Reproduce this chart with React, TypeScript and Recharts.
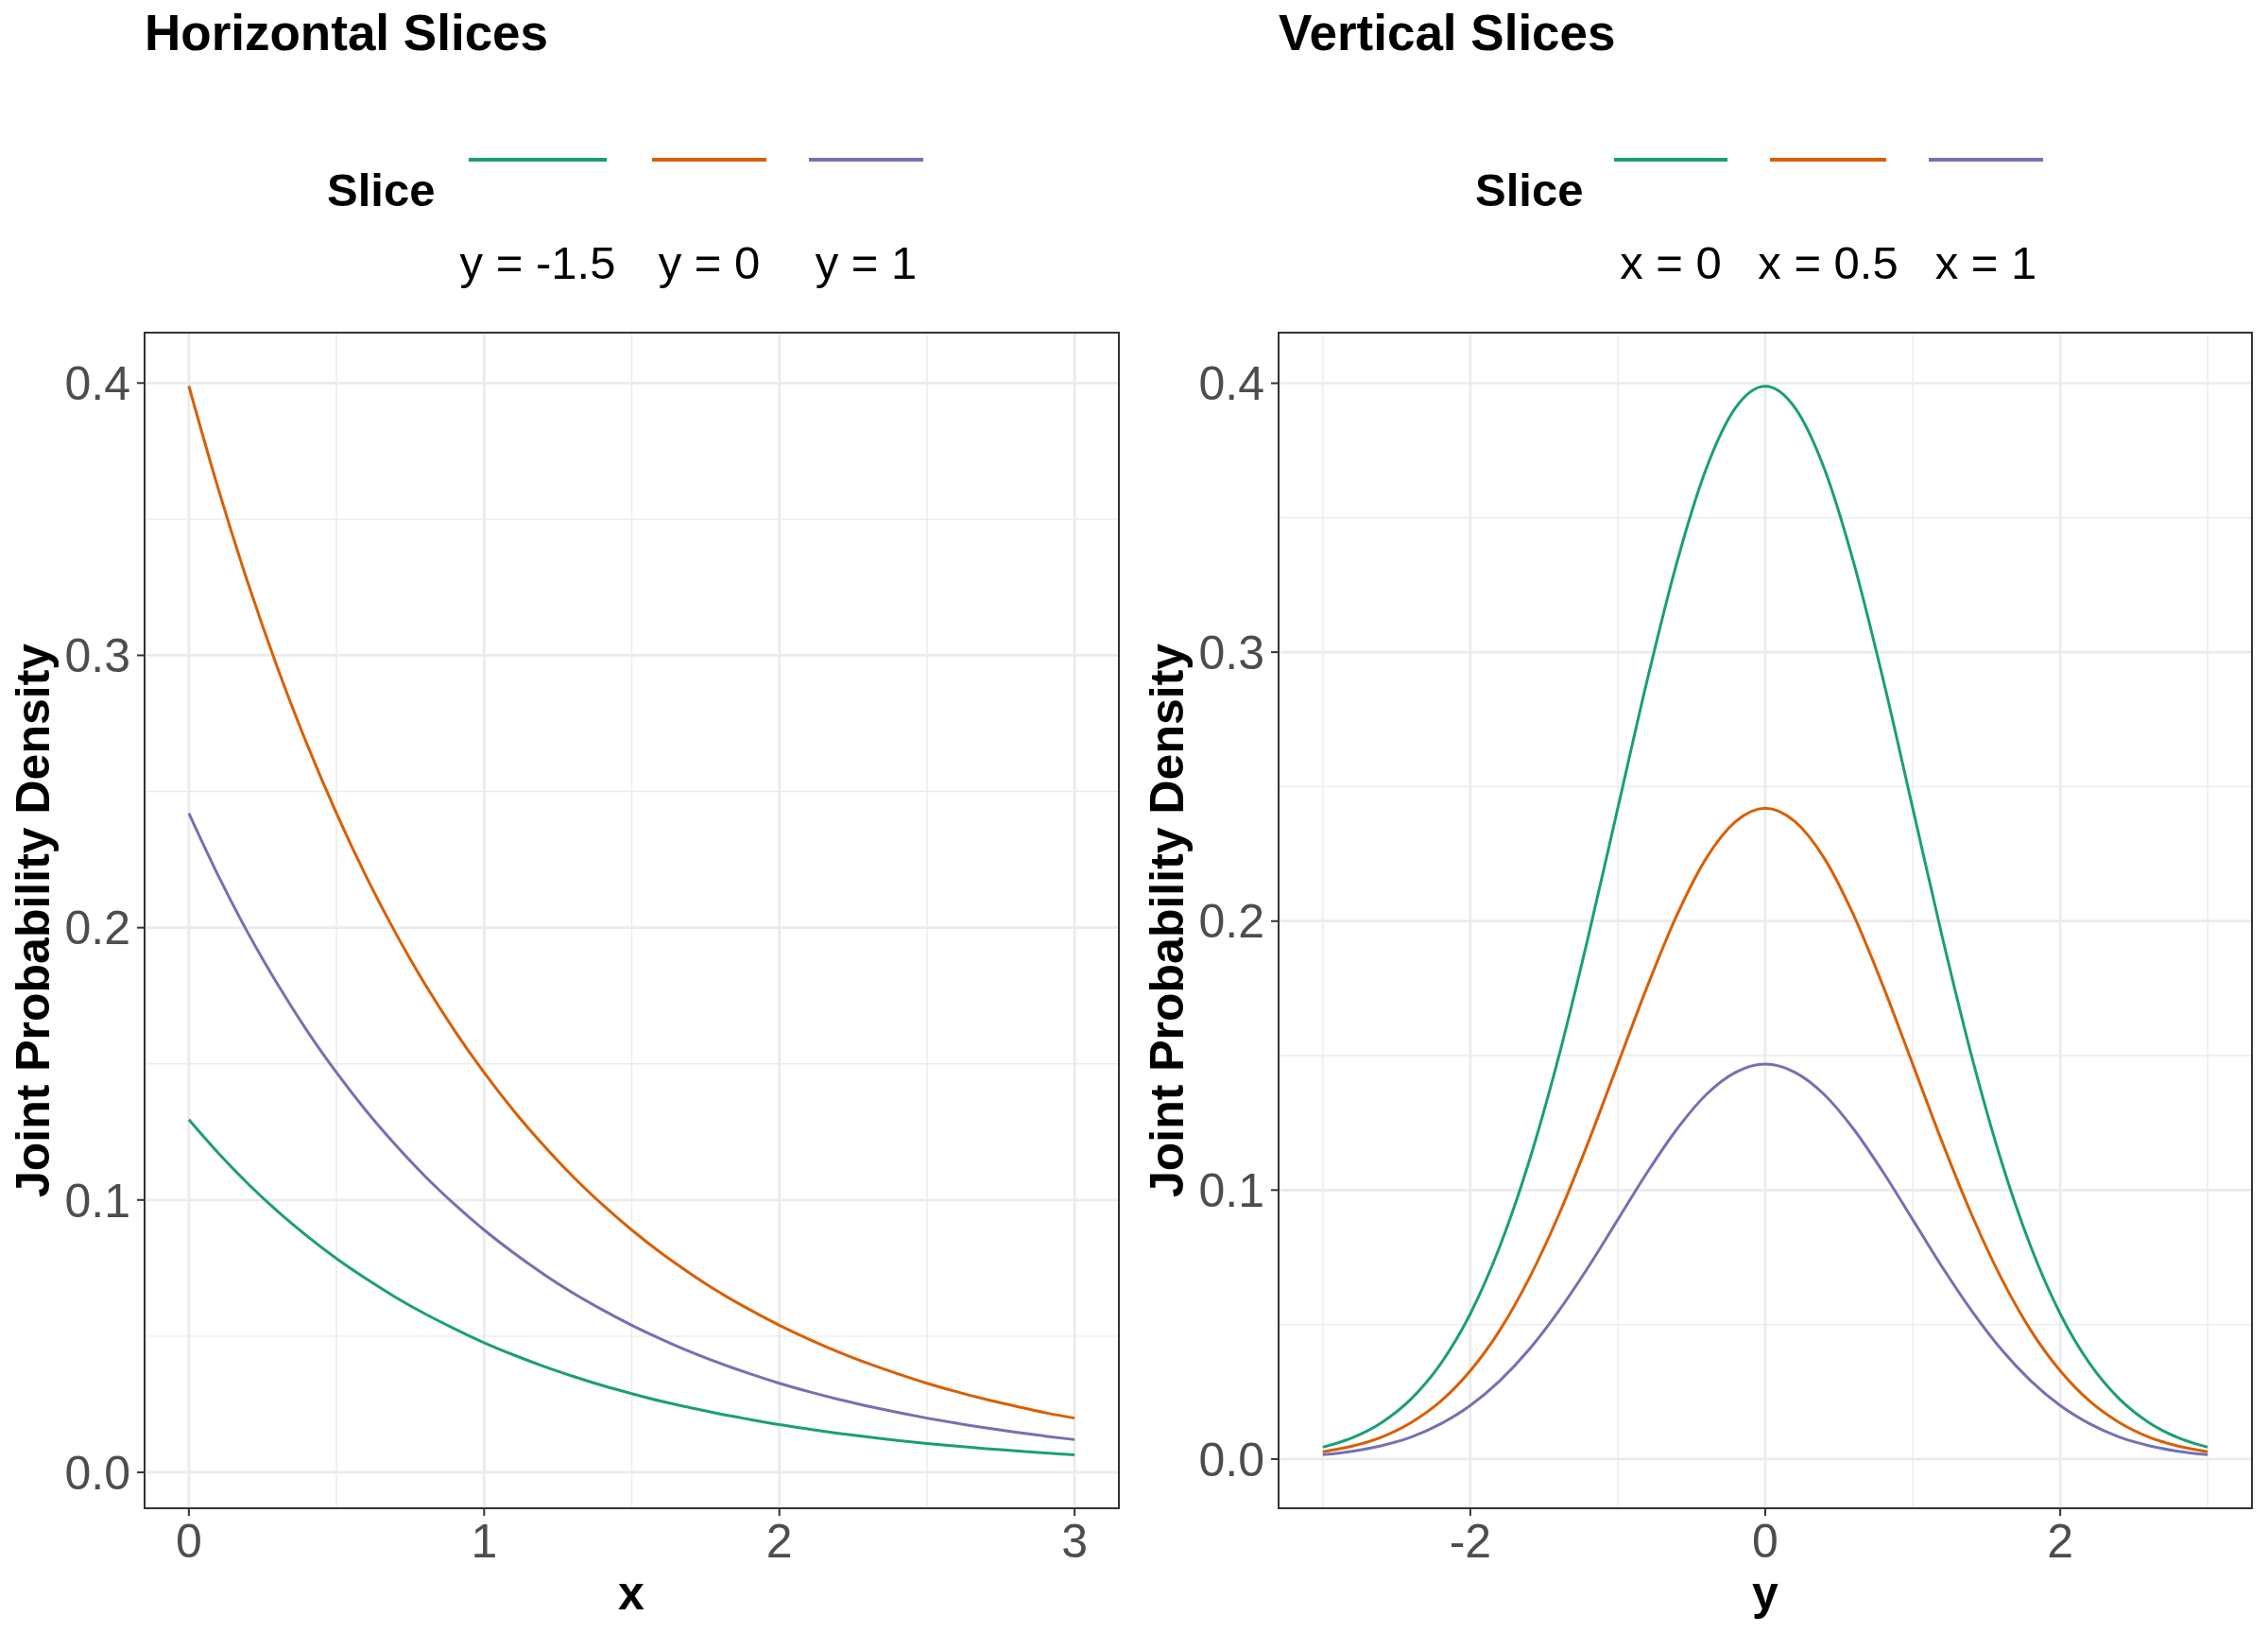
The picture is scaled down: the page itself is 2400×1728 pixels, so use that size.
import {
  LineChart,
  Line,
  XAxis,
  YAxis,
  CartesianGrid,
  ReferenceArea,
} from "recharts";

const FONT = "'Liberation Sans', Arial, Helvetica, sans-serif";
const COLORS = ["#1B9E77", "#D95F02", "#7570B3"];

// horizontal slices: density along x at fixed y
const xGrid = [
  0, 0.1, 0.2, 0.3, 0.4, 0.5, 0.6, 0.7, 0.8, 0.9, 1, 1.1, 1.2, 1.3, 1.4, 1.5,
  1.6, 1.7, 1.8, 1.9, 2, 2.1, 2.2, 2.3, 2.4, 2.5, 2.6, 2.7, 2.8, 2.9, 3,
];
const hSliceYm15 = [
  0.1295, 0.1172, 0.106, 0.0959, 0.0868, 0.0785, 0.0711, 0.0643, 0.0582,
  0.0527, 0.0476, 0.0431, 0.039, 0.0353, 0.0319, 0.0289, 0.0261, 0.0237,
  0.0214, 0.0194, 0.0175, 0.0159, 0.0143, 0.013, 0.0117, 0.0106, 0.0096,
  0.0087, 0.0079, 0.0071, 0.0064,
];
const hSliceY0 = [
  0.3989, 0.361, 0.3266, 0.2955, 0.2674, 0.242, 0.2189, 0.1981, 0.1792,
  0.1622, 0.1468, 0.1328, 0.1202, 0.1087, 0.0984, 0.089, 0.0805, 0.0729,
  0.0659, 0.0597, 0.054, 0.0489, 0.0442, 0.04, 0.0362, 0.0327, 0.0296, 0.0268,
  0.0243, 0.0219, 0.0199,
];
const hSliceY1 = [
  0.242, 0.219, 0.1981, 0.1793, 0.1622, 0.1468, 0.1328, 0.1202, 0.1087,
  0.0984, 0.089, 0.0806, 0.0729, 0.0659, 0.0597, 0.054, 0.0489, 0.0442, 0.04,
  0.0362, 0.0327, 0.0296, 0.0268, 0.0243, 0.022, 0.0199, 0.018, 0.0163,
  0.0147, 0.0133, 0.012,
];
const hLabels = ["y = -1.5", "y = 0", "y = 1"];

// vertical slices: density along y at fixed x
const yGrid = [
  -3, -2.8, -2.6, -2.4, -2.2, -2, -1.8, -1.6, -1.4, -1.2, -1, -0.8, -0.6, -0.4,
  -0.2, 0, 0.2, 0.4, 0.6, 0.8, 1, 1.2, 1.4, 1.6, 1.8, 2, 2.2, 2.4, 2.6, 2.8, 3,
];
const vSliceX0 = [
  0.0044, 0.0079, 0.0136, 0.0224, 0.0355, 0.054, 0.079, 0.1109, 0.1497,
  0.1942, 0.242, 0.2897, 0.3332, 0.3683, 0.391, 0.3989, 0.391, 0.3683, 0.3332,
  0.2897, 0.242, 0.1942, 0.1497, 0.1109, 0.079, 0.054, 0.0355, 0.0224, 0.0136,
  0.0079, 0.0044,
];
const vSliceX05 = [
  0.0027, 0.0048, 0.0082, 0.0136, 0.0215, 0.0328, 0.0479, 0.0673, 0.0908,
  0.1178, 0.1468, 0.1757, 0.2021, 0.2234, 0.2371, 0.242, 0.2371, 0.2234,
  0.2021, 0.1757, 0.1468, 0.1178, 0.0908, 0.0673, 0.0479, 0.0328, 0.0215,
  0.0136, 0.0082, 0.0048, 0.0027,
];
const vSliceX1 = [
  0.0016, 0.0029, 0.005, 0.0082, 0.0131, 0.0199, 0.0291, 0.0408, 0.0551,
  0.0714, 0.089, 0.1066, 0.1226, 0.1355, 0.1438, 0.1468, 0.1438, 0.1355,
  0.1226, 0.1066, 0.089, 0.0714, 0.0551, 0.0408, 0.0291, 0.0199, 0.0131,
  0.0082, 0.005, 0.0029, 0.0016,
];
const vLabels = ["x = 0", "x = 0.5", "x = 1"];

const densityTicks = [0, 0.1, 0.2, 0.3, 0.4];
const densityMinor = [0.05, 0.15, 0.25, 0.35];

const hRows = xGrid.map((x, i) => ({
  x,
  s0: hSliceYm15[i],
  s1: hSliceY0[i],
  s2: hSliceY1[i],
}));
const vRows = yGrid.map((x, i) => ({
  x,
  s0: vSliceX0[i],
  s1: vSliceX05[i],
  s2: vSliceX1[i],
}));

type PanelProps = {
  left: number;
  rows: any[];
  xDomain: [number, number];
  xTicks: number[];
  xMinor: number[];
  yDomain: [number, number];
  rightMargin: number;
};

function SlicePanel({
  left,
  rows,
  xDomain,
  xTicks,
  xMinor,
  yDomain,
  rightMargin,
}: PanelProps) {
  const tickStyle = { fontSize: 50, fill: "#4D4D4D", fontFamily: FONT };
  return (
    <div style={{ position: "absolute", left, top: 0 }}>
      <LineChart
        width={1200}
        height={1728}
        data={rows}
        margin={{ top: 352, right: rightMargin, bottom: 0, left: 0 }}
      >
        <CartesianGrid
          stroke="#EBEBEB"
          strokeWidth={1.4}
          horizontalValues={densityMinor}
          verticalValues={xMinor}
        />
        <CartesianGrid
          stroke="#EBEBEB"
          strokeWidth={2.7}
          horizontalValues={densityTicks}
          verticalValues={xTicks}
        />
        <XAxis
          type="number"
          dataKey="x"
          domain={xDomain}
          ticks={xTicks}
          allowDataOverflow
          height={132}
          axisLine={false}
          tickLine={{ stroke: "#333333", strokeWidth: 2 }}
          tickSize={8}
          tickMargin={8}
          tick={tickStyle}
        />
        <YAxis
          type="number"
          domain={yDomain}
          ticks={densityTicks}
          allowDataOverflow
          width={153}
          axisLine={false}
          tickLine={{ stroke: "#333333", strokeWidth: 2 }}
          tickSize={8}
          tickMargin={7}
          tick={tickStyle}
          tickFormatter={(v: number) => v.toFixed(1)}
        />
        {["s0", "s1", "s2"].map((k, i) => (
          <Line
            key={k}
            type="monotone"
            dataKey={k}
            stroke={COLORS[i]}
            strokeWidth={3}
            dot={false}
            activeDot={false}
            isAnimationActive={false}
          />
        ))}
        <ReferenceArea
          x1={xDomain[0]}
          x2={xDomain[1]}
          y1={yDomain[0]}
          y2={yDomain[1]}
          fill="none"
          stroke="#333333"
          strokeWidth={2}
          ifOverflow="visible"
        />
      </LineChart>
    </div>
  );
}

type LegendProps = {
  titleX: number;
  keys: [number, number][];
  labels: string[];
};

function SliceLegend({ titleX, keys, labels }: LegendProps) {
  return (
    <g fontFamily={FONT}>
      <text x={titleX} y={218} fontSize={49} fontWeight="bold" fill="#000">
        Slice
      </text>
      {keys.map(([a, b], i) => (
        <g key={labels[i]}>
          <line
            x1={a}
            x2={b}
            y1={169}
            y2={169}
            stroke={COLORS[i]}
            strokeWidth={4}
          />
          <text
            x={(a + b) / 2}
            y={295}
            fontSize={49}
            textAnchor="middle"
            fill="#000"
          >
            {labels[i]}
          </text>
        </g>
      ))}
    </g>
  );
}

export default function App() {
  return (
    <div
      style={{
        position: "absolute",
        left: 0,
        top: 0,
        width: 2400,
        height: 1728,
        background: "#fff",
        overflow: "hidden",
      }}
    >
      <SlicePanel
        left={0}
        rows={hRows}
        xDomain={[-0.15, 3.15]}
        xTicks={[0, 1, 2, 3]}
        xMinor={[0.5, 1.5, 2.5]}
        yDomain={[-0.0132, 0.4185]}
        rightMargin={16}
      />
      <SlicePanel
        left={1200}
        rows={vRows}
        xDomain={[-3.3, 3.3]}
        xTicks={[-2, 0, 2]}
        xMinor={[-3, -1, 1, 3]}
        yDomain={[-0.0183, 0.4188]}
        rightMargin={17}
      />
      <svg
        width={2400}
        height={1728}
        style={{ position: "absolute", left: 0, top: 0, pointerEvents: "none" }}
      >
        <g fontFamily={FONT} fontWeight="bold" fill="#000">
          <text x={153} y={53} fontSize={53}>
            Horizontal Slices
          </text>
          <text x={1353} y={53} fontSize={53}>
            Vertical Slices
          </text>
          <text x={668} y={1703} fontSize={50} textAnchor="middle">
            x
          </text>
          <text x={1868} y={1703} fontSize={50} textAnchor="middle">
            y
          </text>
          <text
            transform="translate(52, 974) rotate(-90)"
            fontSize={50}
            textAnchor="middle"
          >
            Joint Probability Density
          </text>
          <text
            transform="translate(1252, 974) rotate(-90)"
            fontSize={50}
            textAnchor="middle"
          >
            Joint Probability Density
          </text>
        </g>
        <SliceLegend
          titleX={346}
          keys={[
            [496, 642],
            [690, 811],
            [856, 977],
          ]}
          labels={hLabels}
        />
        <SliceLegend
          titleX={1561}
          keys={[
            [1708, 1828],
            [1873, 1996],
            [2041, 2162],
          ]}
          labels={vLabels}
        />
      </svg>
    </div>
  );
}
